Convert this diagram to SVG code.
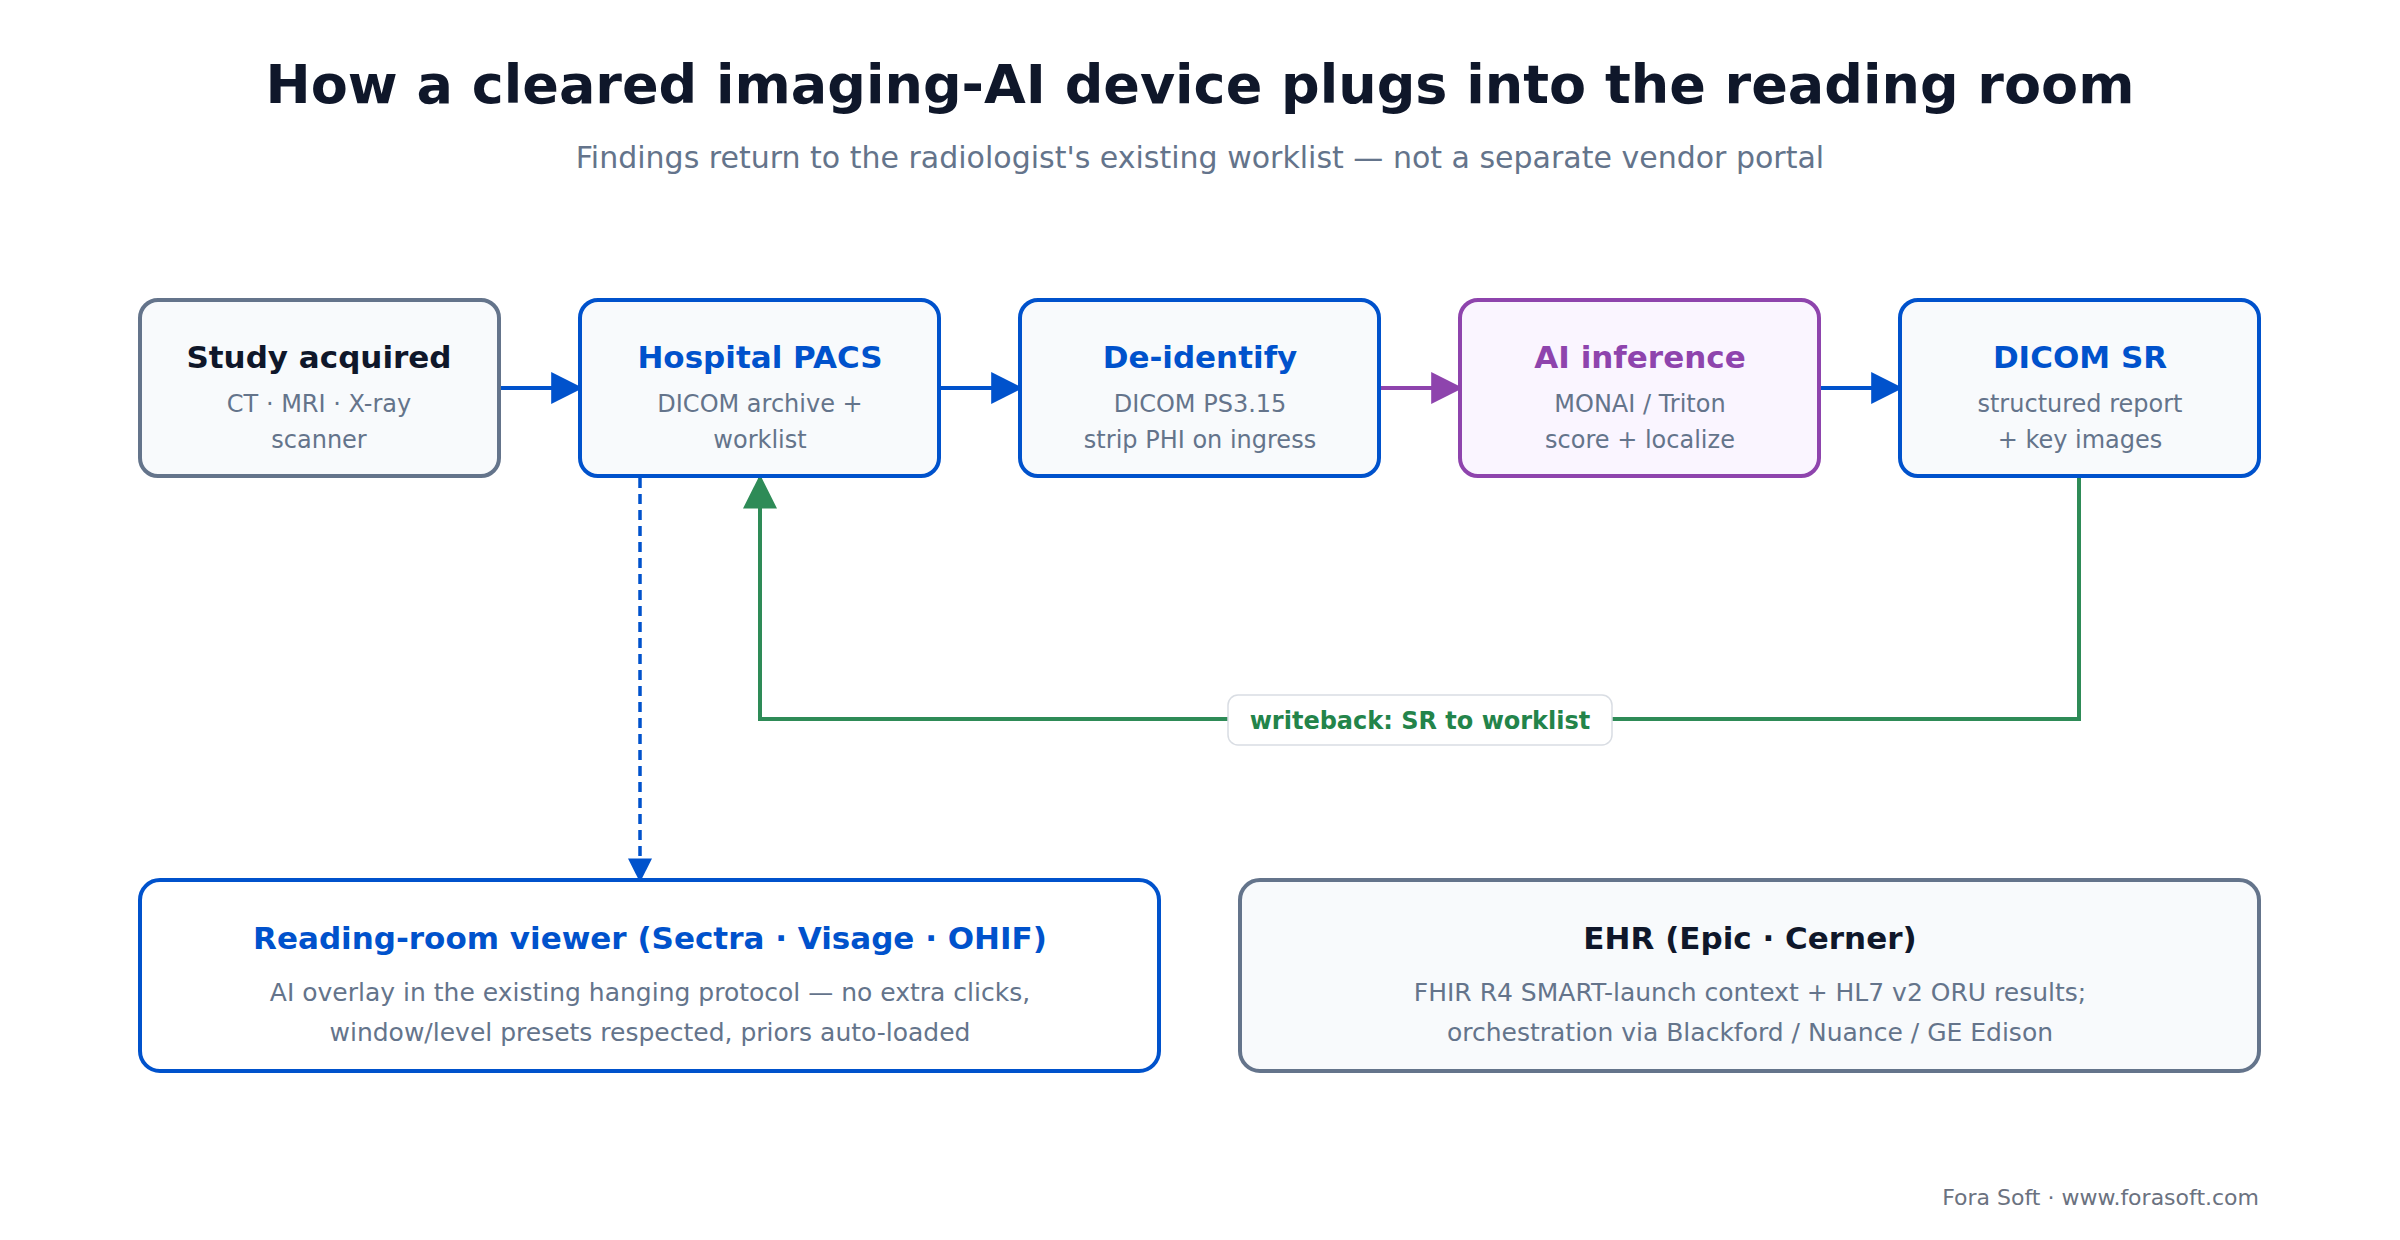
<svg xmlns="http://www.w3.org/2000/svg" width="2400" height="1240" viewBox="0 0 2400 1240">
<style>
text{font-family:"DejaVu Sans",sans-serif;text-anchor:middle}
.t{font-size:31px;font-weight:bold}
.s{font-size:24px;fill:#64748b}
.s2{font-size:25px;fill:#64748b}
.box{stroke-width:4;fill:#f8fafc}
.blue{stroke:#0052cc}.grey{stroke:#64748b}.purp{stroke:#8e44ad}
</style>
<defs>
<marker id="ap" viewBox="0 0 10 10" refX="9" refY="5" markerWidth="32" markerHeight="32" orient="auto" markerUnits="userSpaceOnUse"><path d="M0,0L10,5L0,10z" fill="#8e44ad"/></marker>
<marker id="ab2" viewBox="0 0 10 10" refX="9" refY="5" markerWidth="32" markerHeight="32" orient="auto" markerUnits="userSpaceOnUse"><path d="M0,0L10,5L0,10z" fill="#0052cc"/></marker>
<marker id="ag" viewBox="0 0 10 10" refX="9" refY="5" markerWidth="34" markerHeight="34" orient="auto" markerUnits="userSpaceOnUse"><path d="M0,0L10,5L0,10z" fill="#2e8b57"/></marker>
<marker id="ad" viewBox="0 0 10 10" refX="9" refY="5" markerWidth="24" markerHeight="24" orient="auto" markerUnits="userSpaceOnUse"><path d="M0,0L10,5L0,10z" fill="#0052cc"/></marker>
</defs>
<rect width="2400" height="1240" fill="#fff"/>
<text x="1200" y="103" style="font-size:54px;font-weight:bold;fill:#0f172a">How a cleared imaging-AI device plugs into the reading room</text>
<text x="1200" y="168" style="font-size:30px;fill:#64748b">Findings return to the radiologist's existing worklist — not a separate vendor portal</text>
<g id="connectors" fill="none" stroke-width="4">
<path d="M500,388H580" stroke="#0052cc" marker-end="url(#ab2)"/>
<path d="M940,388H1020" stroke="#0052cc" marker-end="url(#ab2)"/>
<path d="M1380,388H1460" stroke="#8e44ad" marker-end="url(#ap)"/>
<path d="M1820,388H1900" stroke="#0052cc" marker-end="url(#ab2)"/>
<path d="M640,478V880" stroke="#0052cc" stroke-width="3.5" stroke-dasharray="10,6" marker-end="url(#ad)"/>
<path d="M2079,478V719H760V478" stroke="#2e8b57" marker-end="url(#ag)"/>
<rect x="1228" y="695" width="384" height="50" rx="10" fill="#fff" stroke="#d9dde3" stroke-width="1.5"/>
<text x="1420" y="729" style="font-size:24px;font-weight:bold;fill:#23844a;stroke:none">writeback: SR to worklist</text>
</g>
<g id="study"><rect class="box grey" x="140" y="300" width="359" height="176" rx="18"/><text class="t" x="319" y="368" fill="#0f172a">Study acquired</text><text class="s" x="319" y="412">CT · MRI · X-ray</text><text class="s" x="319" y="448">scanner</text></g>
<g id="pacs"><rect class="box blue" x="580" y="300" width="359" height="176" rx="18"/><text class="t" x="760" y="368" fill="#0052cc">Hospital PACS</text><text class="s" x="760" y="412">DICOM archive +</text><text class="s" x="760" y="448">worklist</text></g>
<g id="deid"><rect class="box blue" x="1020" y="300" width="359" height="176" rx="18"/><text class="t" x="1200" y="368" fill="#0052cc">De-identify</text><text class="s" x="1200" y="412">DICOM PS3.15</text><text class="s" x="1200" y="448">strip PHI on ingress</text></g>
<g id="ai"><rect class="box purp" x="1460" y="300" width="359" height="176" rx="18" style="fill:#faf5ff"/><text class="t" x="1640" y="368" fill="#8e44ad">AI inference</text><text class="s" x="1640" y="412">MONAI / Triton</text><text class="s" x="1640" y="448">score + localize</text></g>
<g id="sr"><rect class="box blue" x="1900" y="300" width="359" height="176" rx="18"/><text class="t" x="2080" y="368" fill="#0052cc">DICOM SR</text><text class="s" x="2080" y="412">structured report</text><text class="s" x="2080" y="448">+ key images</text></g>
<g id="viewer"><rect class="box blue" x="140" y="880" width="1019" height="191" rx="20" style="fill:#fff"/><text class="t" x="650" y="949" fill="#0052cc">Reading-room viewer (Sectra · Visage · OHIF)</text><text class="s2" x="650" y="1001">AI overlay in the existing hanging protocol — no extra clicks,</text><text class="s2" x="650" y="1041">window/level presets respected, priors auto-loaded</text></g>
<g id="ehr"><rect class="box grey" x="1240" y="880" width="1019" height="191" rx="20"/><text class="t" x="1750" y="949" fill="#0f172a">EHR (Epic · Cerner)</text><text class="s2" x="1750" y="1001">FHIR R4 SMART-launch context + HL7 v2 ORU results;</text><text class="s2" x="1750" y="1041">orchestration via Blackford / Nuance / GE Edison</text></g>
<text x="2259" y="1205" style="font-size:22px;fill:#6b7280;text-anchor:end">Fora Soft · www.forasoft.com</text>
</svg>
